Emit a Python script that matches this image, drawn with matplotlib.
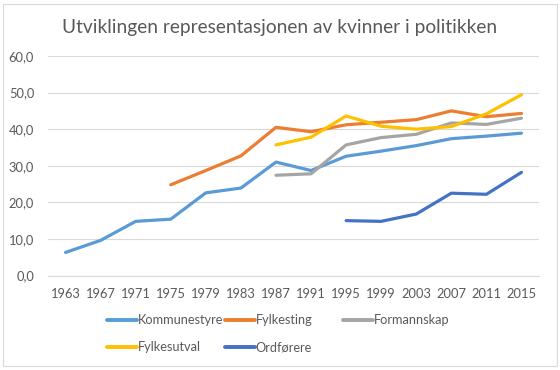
import numpy as np
import matplotlib.pyplot as plt
from matplotlib.patches import Rectangle

plt.rcParams['font.family'] = ['Lato', 'DejaVu Sans']

years = ['1963', '1967', '1971', '1975', '1979', '1983', '1987', '1991',
         '1995', '1999', '2003', '2007', '2011', '2015']
nan = np.nan
kommunestyre = [6.3, 9.6, 14.8, 15.4, 22.6, 23.9, 31.0, 28.7, 32.6, 34.0, 35.5, 37.4, 38.1, 38.9]
fylkesting = [nan, nan, nan, 24.8, 28.7, 32.7, 40.5, 39.3, 41.2, 41.9, 42.6, 45.0, 43.4, 44.3]
formannskap = [nan, nan, nan, nan, nan, nan, 27.4, 27.8, 35.7, 37.7, 38.6, 41.7, 41.3, 43.0]
fylkesutval = [nan, nan, nan, nan, nan, nan, 35.7, 37.8, 43.6, 40.8, 40.0, 40.7, 44.2, 49.4]
ordforere = [nan, nan, nan, nan, nan, nan, nan, nan, 15.0, 14.8, 16.8, 22.5, 22.2, 28.2]

series = [('Kommunestyre', kommunestyre, '#5B9BD5'),
          ('Fylkesting', fylkesting, '#ED7D31'),
          ('Formannskap', formannskap, '#A5A5A5'),
          ('Fylkesutval', fylkesutval, '#FFC000'),
          ('Ordførere', ordforere, '#4472C4')]

txt = '#595959'
W, H = 560, 370
fig = plt.figure(figsize=(W / 100, H / 100), dpi=100)
fig.patches.append(Rectangle((3 / W, 4 / H), 554 / W, 362 / H, transform=fig.transFigure,
                             fill=False, edgecolor='#D9D9D9', linewidth=0.8))

ax = fig.add_axes([48 / W, 1 - 275.5 / H, 491 / W, 219.5 / H])
x = np.arange(len(years))
lines = {}
for name, vals, col in series:
    ln, = ax.plot(x, vals, color=col, linewidth=2.3, solid_capstyle='round',
                  solid_joinstyle='round', label=name)
    lines[name] = ln

ax.set_xlim(-0.5, len(years) - 0.5)
ax.set_ylim(0, 60)
ax.set_yticks(np.arange(0, 61, 10))
ax.set_yticklabels([f'{v:.1f}'.replace('.', ',') for v in np.arange(0, 61, 10)])
ax.set_xticks(x)
ax.set_xticklabels(years)
ax.grid(axis='y', color='#D9D9D9', linewidth=0.8)
ax.set_axisbelow(True)
for s in ax.spines.values():
    s.set_visible(False)
ax.spines['bottom'].set_visible(True)
ax.spines['bottom'].set_color('#D9D9D9')
ax.tick_params(length=0, labelsize=9.3, colors=txt)
ax.tick_params(axis='x', pad=9)
ax.tick_params(axis='y', pad=10)

fig.text(280 / W, 1 - 27 / H, 'Utviklingen representasjonen av kvinner i politikken',
         ha='center', va='center', fontsize=13.8, color=txt)

cols = [['Kommunestyre', 'Fylkesutval'], ['Fylkesting', 'Ordførere'], ['Formannskap']]
for i, names in enumerate(cols):
    leg = fig.legend([lines[n] for n in names], names, loc='upper left',
                     bbox_to_anchor=((107 + 118 * i) / W, 1 - 314 / H),
                     frameon=False, fontsize=9.2, handlelength=2.35, handletextpad=0.05,
                     borderpad=0, borderaxespad=0, labelspacing=1.2, labelcolor=txt)
    for h in leg.legend_handles:
        h.set_linewidth(2.8)

fig.savefig('out.png', dpi=100)
